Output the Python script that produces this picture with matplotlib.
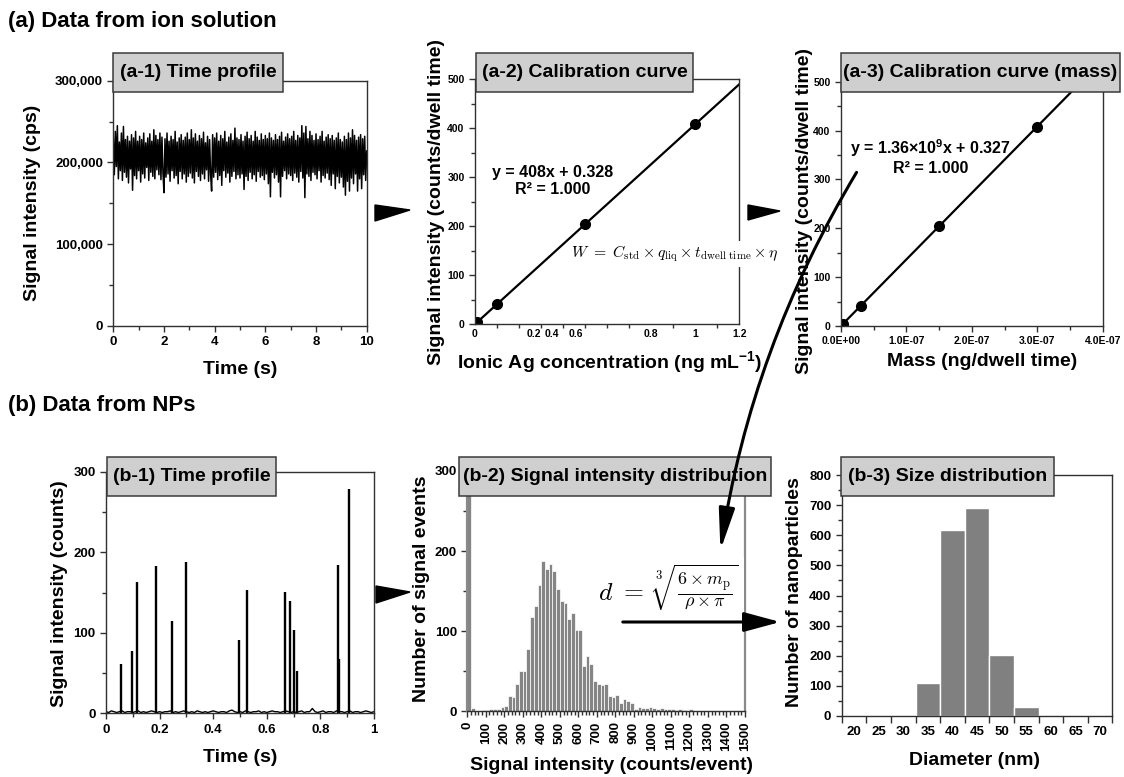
import numpy as np
import matplotlib.pyplot as plt
from matplotlib.patches import Rectangle, Polygon, FancyArrowPatch

plt.rcParams['font.family'] = ['Liberation Sans', 'DejaVu Sans']
plt.rcParams['font.weight'] = 'bold'
plt.rcParams['axes.labelweight'] = 'bold'
plt.rcParams['mathtext.fontset'] = 'custom'
plt.rcParams['mathtext.bf'] = 'Liberation Sans:bold'
plt.rcParams['mathtext.rm'] = 'Liberation Sans:bold'

# ---- data ----
# (a-1) ionic Ag time profile, signal in thousand cps, one value every 0.04 s
a1_time_step = 0.04
a1_signal_k = [
    230, 185, 238, 195, 245, 180, 225, 190, 236, 178, 244, 188, 228, 182, 232, 175, 226, 192, 234, 166, 230, 184, 238, 180, 226,
    190, 232, 176, 228, 186, 236, 181, 224, 194, 230, 178, 235, 188, 226, 183, 240, 180, 233, 191, 228, 185, 236, 179, 231, 187,
    163, 229, 182, 236, 186, 226, 177, 232, 190, 228, 181, 238, 184, 225, 174, 230, 189, 234, 180, 227, 186, 231, 176, 236, 183,
    228, 187, 240, 181, 230, 175, 235, 189, 226, 183, 233, 178, 229, 186, 237, 180, 224, 191, 232, 177, 228, 185, 165, 234, 182,
    230, 188, 236, 179, 226, 184, 233, 172, 229, 190, 238, 182, 225, 187, 231, 176, 235, 183, 227, 189, 242, 180, 230, 185, 228,
    181, 234, 186, 226, 167, 232, 183, 237, 178, 229, 188, 233, 180, 226, 185, 238, 177, 231, 189, 227, 182, 235, 184, 228, 179,
    233, 186, 229, 174, 236, 158, 230, 188, 227, 181, 234, 185, 228, 176, 232, 158, 237, 183, 226, 190, 231, 180, 235, 186, 229,
    184, 232, 178, 238, 187, 227, 182, 233, 176, 230, 189, 245, 181, 236, 157, 244, 186, 229, 183, 238, 178, 233, 188, 227, 185,
    235, 180, 228, 190, 232, 176, 238, 184, 226, 181, 231, 187, 234, 179, 229, 172, 233, 186, 227, 168, 230, 183, 236, 175, 228,
    182, 225, 170, 232, 160, 228, 177, 236, 165, 230, 181, 240, 174, 233, 186, 227, 165, 231, 180, 234, 168, 229, 185, 232, 178,
    214]
a1_yticklabels = ['0', '100,000', '200,000', '300,000']

# (a-2) / (a-3) calibration standards
cal_conc = [0.01, 0.1, 0.5, 1.0]            # ng/mL
cal_mass = [3.4e-9, 3.0e-8, 1.5e-7, 3.0e-7]  # ng per dwell time
cal_signal = [4.4, 41, 204, 408]             # counts per dwell time
fit_conc = (408, 0.328)
fit_mass = (1.36e9, 0.327)
a2_xlabel_pos = [0, 0.266, 0.35, 0.458, 0.8, 1.0, 1.2]
a2_xlabel_txt = ['0', '0.2', '0.4', '0.6', '0.8', '1', '1.2']
a3_xticklabels = ['0.0E+00', '1.0E-07', '2.0E-07', '3.0E-07', '4.0E-07']

# (b-1) NP time profile: background every 0.01 s and particle spikes
b1_step = 0.01
b1_background = [
    2, 1, 3, 2, 1, 2, 3, 1, 2, 2, 1, 2, 3, 1, 2, 1, 2, 3, 2, 1,
    2, 1, 2, 2, 3, 1, 2, 1, 2, 3, 2, 1, 2, 1, 3, 2, 1, 2, 1, 2,
    3, 2, 1, 2, 2, 1, 3, 4, 2, 1, 2, 1, 3, 2, 1, 2, 2, 3, 1, 2,
    1, 2, 3, 2, 2, 1, 2, 3, 2, 1, 2, 1, 2, 3, 1, 2, 2, 6, 2, 1,
    2, 3, 1, 2, 2, 1, 3, 2, 2, 1, 2, 3, 1, 2, 2, 1, 2, 3, 2, 1, 2]
spike_time = [0.057, 0.096, 0.117, 0.187, 0.245, 0.297, 0.497, 0.525,
              0.668, 0.687, 0.703, 0.711, 0.864, 0.871, 0.907]
spike_height = [61, 77, 163, 183, 114, 188, 91, 153, 151, 139, 103, 52, 184, 67, 278]

# (b-2) signal intensity histogram, bins of 20 counts from 0 to 1500 (first bin off scale)
b2_bin_width = 20
b2_counts = [300, 4, 0, 0, 1, 1, 2, 2, 3, 5,
             6, 19, 17, 34, 50, 50, 77, 118, 131, 158,
             188, 178, 184, 175, 153, 138, 135, 115, 122, 101,
             101, 56, 69, 59, 38, 34, 33, 34, 19, 17,
             20, 10, 15, 13, 10, 3, 5, 4, 4, 5,
             4, 3, 4, 2, 2, 2, 1, 2, 1, 0,
             2, 0, 0, 0, 0, 0, 0, 0, 0, 0,
             0, 0, 0, 0, 0]

# (b-3) size distribution
diameter = [20, 25, 30, 35, 40, 45, 50, 55, 60, 65, 70]
n_particles = [0, 4, 2, 109, 617, 691, 203, 31, 4, 0, 0]

# ---- figure ----
W, H = 1124, 777
fig = plt.figure(figsize=(W / 100, H / 100), dpi=100)
SPINE = '#303030'
BOX = '#cfcfcf'


def px_axes(x0, x1, ytop, ybot):
    return fig.add_axes([x0 / W, 1 - ybot / H, (x1 - x0) / W, (ybot - ytop) / H])


def fx(x):
    return x / W


def fy(y):
    return 1 - y / H


def title_box(x0, x1, y0, y1, label):
    fig.add_artist(Rectangle((fx(x0), fy(y1)), fx(x1 - x0), (y1 - y0) / H, transform=fig.transFigure,
                             facecolor=BOX, edgecolor='#3a3a3a', lw=1.1, zorder=5))
    fig.text(fx((x0 + x1) / 2), fy((y0 + y1) / 2), label, ha='center', va='center',
             fontsize=14, zorder=6)


def style(ax, tick_size):
    for s in ax.spines.values():
        s.set_color(SPINE)
        s.set_linewidth(1.0)
    ax.tick_params(which='both', direction='out', colors=SPINE, labelcolor='black',
                   labelsize=tick_size, width=1)
    ax.tick_params(which='major', length=4)
    ax.tick_params(which='minor', length=3)


def labels(ax, xl, yl, xpos, ypos, size=14):
    ax.set_xlabel(xl, fontsize=size)
    ax.set_ylabel(yl, fontsize=size)
    ax.xaxis.set_label_coords(*xpos)
    ax.yaxis.set_label_coords(*ypos)
    ax.xaxis.label.set_va('center')
    ax.yaxis.label.set_va('center')


# (a-1)
ax1 = px_axes(113.3, 366.7, 80.7, 326)
t1 = np.arange(len(a1_signal_k)) * a1_time_step
ax1.plot(t1, np.array(a1_signal_k) * 1000, color='black', lw=1.1)
ax1.set_xlim(0, 10)
ax1.set_ylim(0, 300000)
ax1.set_xticks(range(0, 11, 2))
ax1.set_xticks(range(0, 11), minor=True)
ax1.set_yticks([0, 100000, 200000, 300000], a1_yticklabels)
ax1.set_yticks(range(0, 300001, 50000), minor=True)
style(ax1, 9.5)
labels(ax1, 'Time (s)', 'Signal intensity (cps)', (0.5, -0.179), (-0.317, 0.5))

# (a-2)
ax2 = px_axes(475, 739.3, 79.3, 324.3)
xs = np.array([0, 1.2])
ax2.plot(xs, fit_conc[0] * xs + fit_conc[1], color='black', lw=1.6)
ax2.plot(cal_conc, cal_signal, 'o', color='black', ms=7)
ax2.set_xlim(0, 1.2)
ax2.set_ylim(0, 500)
ax2.set_xticks(a2_xlabel_pos, a2_xlabel_txt)
ax2.set_xticks(np.arange(0, 1.21, 0.1), minor=True)
ax2.set_yticks(range(0, 501, 100))
ax2.set_yticks(range(0, 501, 50), minor=True)
style(ax2, 7.5)
ax2.tick_params(axis='x', which='major', length=0)
ax2.text(0.354, 292, 'y = 408x + 0.328\nR² = 1.000', ha='center', va='center',
         multialignment='center', fontsize=11.5)
labels(ax2, 'Ionic Ag concentration (ng mL$^{\\mathbf{-1}}$)', 'Signal intensity (counts/dwell time)',
       (0.511, -0.158), (-0.144, 0.5))

# (a-3)
ax3 = px_axes(841, 1102.7, 81.7, 326)
xm = np.array([0, 4e-7])
ax3.plot(xm, fit_mass[0] * xm + fit_mass[1], color='black', lw=1.6)
ax3.plot(cal_mass, cal_signal, 'o', color='black', ms=7)
ax3.set_xlim(0, 4e-7)
ax3.set_ylim(0, 500)
ax3.set_xticks(np.arange(5) * 1e-7, a3_xticklabels)
ax3.set_xticks(np.arange(9) * 0.5e-7, minor=True)
ax3.set_yticks(range(0, 501, 100))
ax3.set_yticks(range(0, 501, 50), minor=True)
style(ax3, 7.5)
ax3.text(1.37e-7, 346, 'y = 1.36×10$^{\\mathbf{9}}$x + 0.327\nR² = 1.000', ha='center', va='center',
         multialignment='center', fontsize=11.5)
labels(ax3, 'Mass (ng/dwell time)', 'Signal intensity (counts/dwell time)',
       (0.538, -0.147), (-0.138, 0.47))

# (b-1)
ax4 = px_axes(106, 374, 471.7, 713.3)
tb = np.arange(len(b1_background)) * b1_step
ax4.plot(tb, b1_background, color='black', lw=1.0)
ax4.vlines(spike_time, 0, spike_height, color='black', lw=1.7)
ax4.set_xlim(0, 1)
ax4.set_ylim(0, 300)
ax4.set_xticks(np.arange(0, 1.01, 0.2), ['0', '0.2', '0.4', '0.6', '0.8', '1'])
ax4.set_xticks(np.arange(0, 1.01, 0.1), minor=True)
ax4.set_yticks(range(0, 301, 100))
ax4.set_yticks(range(0, 301, 50), minor=True)
style(ax4, 9.5)
labels(ax4, 'Time (s)', 'Signal intensity (counts)', (0.5, -0.181), (-0.175, 0.494))

# (b-2)
ax5 = px_axes(467.2, 745, 471, 711)
edges = np.arange(len(b2_counts)) * b2_bin_width
ax5.bar(edges, b2_counts, width=b2_bin_width, align='edge', color='#858585',
        edgecolor='white', lw=0.5)
ax5.set_xlim(0, 1500)
ax5.set_ylim(0, 300)
ax5.set_xticks(range(0, 1501, 100))
ax5.set_xticks(range(0, 1501, 20), minor=True)
ax5.set_yticks(range(0, 301, 100))
ax5.set_yticks(range(0, 301, 50), minor=True)
style(ax5, 9.5)
ax5.tick_params(axis='x', labelrotation=90)
for s in ('left', 'right', 'top'):
    ax5.spines[s].set_color('#8a8a8a')
    ax5.spines[s].set_linewidth(1.6)
labels(ax5, 'Signal intensity (counts/event)', 'Number of signal events', (0.52, -0.225), (-0.163, 0.51))

# (b-3)
ax6 = px_axes(841.7, 1112.3, 475, 716)
pos = np.arange(len(diameter))
ax6.bar(pos, n_particles, width=1, color='#808080', edgecolor='white', lw=1)
ax6.set_xlim(-0.5, len(diameter) - 0.5)
ax6.set_ylim(0, 800)
ax6.set_xticks(pos, [str(d) for d in diameter])
ax6.set_xticks(np.arange(len(diameter) + 1) - 0.5, minor=True)
ax6.set_yticks(range(0, 801, 100))
ax6.set_yticks(range(0, 801, 50), minor=True)
style(ax6, 9.5)
ax6.tick_params(axis='x', which='major', length=0, pad=7)
ax6.tick_params(axis='x', which='minor', length=5)
labels(ax6, 'Diameter (nm)', 'Number of nanoparticles', (0.49, -0.183), (-0.173, 0.515))

# panel title boxes
title_box(113, 283, 53, 92, '(a-1) Time profile')
title_box(476, 693, 53, 92, '(a-2) Calibration curve')
title_box(841, 1120, 53, 92, '(a-3) Calibration curve (mass)')
title_box(107, 276, 457, 496, '(b-1) Time profile')
title_box(459, 771, 457, 496, '(b-2) Signal intensity distribution')
title_box(841, 1054, 457, 496, '(b-3) Size distribution')

# section headings
fig.text(fx(8), fy(21), '(a) Data from ion solution', fontsize=16, va='center')
fig.text(fx(8), fy(406), '(b) Data from NPs', fontsize=16, va='center')

# formulas
fig.text(fx(675), fy(254), r'$W \ =\ C_{\rm std} \times q_{\rm liq} \times t_{\rm dwell\ time} \times \eta$',
         math_fontfamily='cm', fontsize=11.3, ha='center', va='center', zorder=4,
         bbox=dict(facecolor='white', edgecolor='none', pad=2))
fig.text(fx(668), fy(588), r'$d \ =\ \sqrt[3]{\frac{6 \times m_{\rm p}}{\rho \times \pi}}$',
         math_fontfamily='cm', fontsize=18.5, ha='center', va='center', zorder=4,
         bbox=dict(facecolor='white', edgecolor='none', pad=4))

# flow arrows
for tri in ([(375, 205), (410, 210), (375, 221)],
            [(748, 205), (780, 211), (748, 220)],
            [(376, 586), (410, 592), (376, 603)]):
    fig.add_artist(Polygon([(fx(x), fy(y)) for x, y in tri], closed=True, transform=fig.transFigure,
                           facecolor='black', edgecolor='black', zorder=6))

fig.add_artist(FancyArrowPatch((fx(858), fy(170)), (fx(720), fy(553)), transform=fig.transFigure,
                               arrowstyle='-|>,head_length=2.1,head_width=0.4', mutation_scale=12,
                               connectionstyle='arc3,rad=0.1', lw=2.2, color='black', zorder=7))
fig.add_artist(FancyArrowPatch((fx(620), fy(622)), (fx(783), fy(622)), transform=fig.transFigure,
                               arrowstyle='-|>,head_length=1.85,head_width=0.5', mutation_scale=12,
                               lw=2.2, color='black', zorder=7))

fig.savefig('out.png', dpi=100)
